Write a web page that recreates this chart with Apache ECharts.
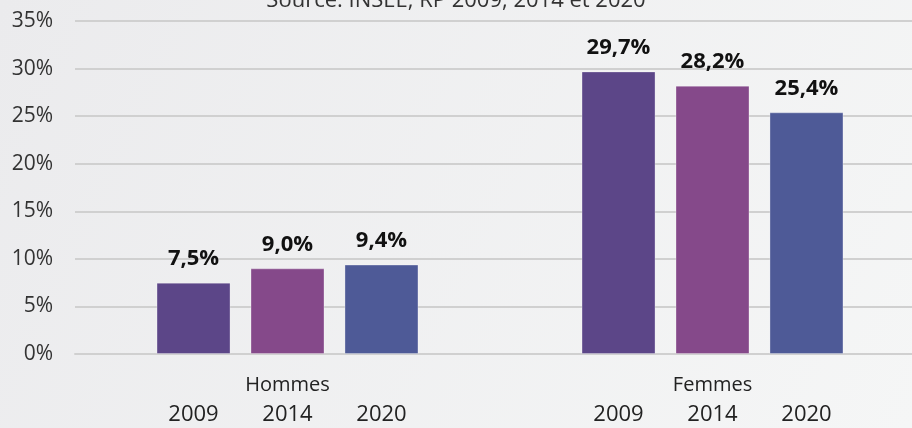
<!DOCTYPE html>
<html>
<head>
<meta charset="utf-8">
<script src="https://cdn.jsdelivr.net/npm/echarts@6/dist/echarts.min.js"></script>
<style>
html,body{margin:0;padding:0;}
#chart{width:912px;height:428px;}
</style>
</head>
<body>
<div id="chart"></div>
<script>
// données
var categories = ['Hommes', 'Femmes'];
var years = ['2009', '2014', '2020'];
var values2009 = [7.5, 29.7];
var values2014 = [9.0, 28.2];
var values2020 = [9.4, 25.4];
var colors = ['#5c4688', '#85498a', '#4e5a97'];
var yTicks = [0, 5, 10, 15, 20, 25, 30, 35];

var myChart = echarts.init(document.getElementById('chart'));

function pct(v){
    return v.toFixed(1).replace('.', ',') + '%';
}

// séries
function Bar(name, data, color){
    this.name = name;
    this.type = 'bar';
    this.data = data;
    this.barWidth = 74;
    this.barGap = '27%';
    this.itemStyle = {color: color, borderColor: 'rgba(255,255,255,0.3)', borderWidth: 1};
    this.label = {
        show: true,
        position: 'top',
        distance: 13,
        color: '#111',
        fontSize: 22,
        fontWeight: 'bold',
        fontFamily: 'Open Sans',
        formatter: function(p){ return pct(p.value); }
    };
}

var seriesArr = [
    new Bar(years[0], values2009, colors[0]),
    new Bar(years[1], values2014, colors[1]),
    new Bar(years[2], values2020, colors[2])
];

var option = {
    backgroundColor: {
        type: 'linear', x: 0, y: 0, x2: 1, y2: 1,
        colorStops: [{offset: 0, color: '#ebebed'}, {offset: 1, color: '#f5f6f6'}]
    },
    title: {
        text: 'Source: INSEE, RP 2009, 2014 et 2020',
        left: 'center',
        top: -15,
        textStyle: {fontSize: 22, fontWeight: 'normal', color: '#333', fontFamily: 'Open Sans'}
    },
    grid: {left: 75, right: -13, top: 21, bottom: 74, outerBoundsMode: 'none', containLabel: false},
    xAxis: {
        type: 'category',
        data: categories,
        axisTick: {show: false},
        axisLine: {lineStyle: {color: '#d0d0d0', width: 2}},
        axisLabel: {
            margin: 17,
            interval: 0,
            formatter: function(v){
                return '{c|' + v + '}\n' + years.map(function(y){ return '{y|' + y + '}'; }).join('');
            },
            rich: {
                c: {fontSize: 20, color: '#222', fontFamily: 'Open Sans', lineHeight: 28},
                y: {fontSize: 22, color: '#222', fontFamily: 'Open Sans', width: 94, align: 'center', lineHeight: 32}
            }
        }
    },
    yAxis: {
        type: 'value',
        min: yTicks[0],
        max: yTicks[yTicks.length - 1],
        interval: 5,
        axisLine: {show: false},
        axisTick: {show: false},
        splitLine: {lineStyle: {color: '#d0d0d0', width: 2}},
        axisLabel: {
            margin: 22,
            fontSize: 21,
            color: '#333',
            fontFamily: 'Open Sans',
            formatter: '{value}%'
        }
    },
    series: seriesArr
};
myChart.setOption(option);
</script>
</body>
</html>
